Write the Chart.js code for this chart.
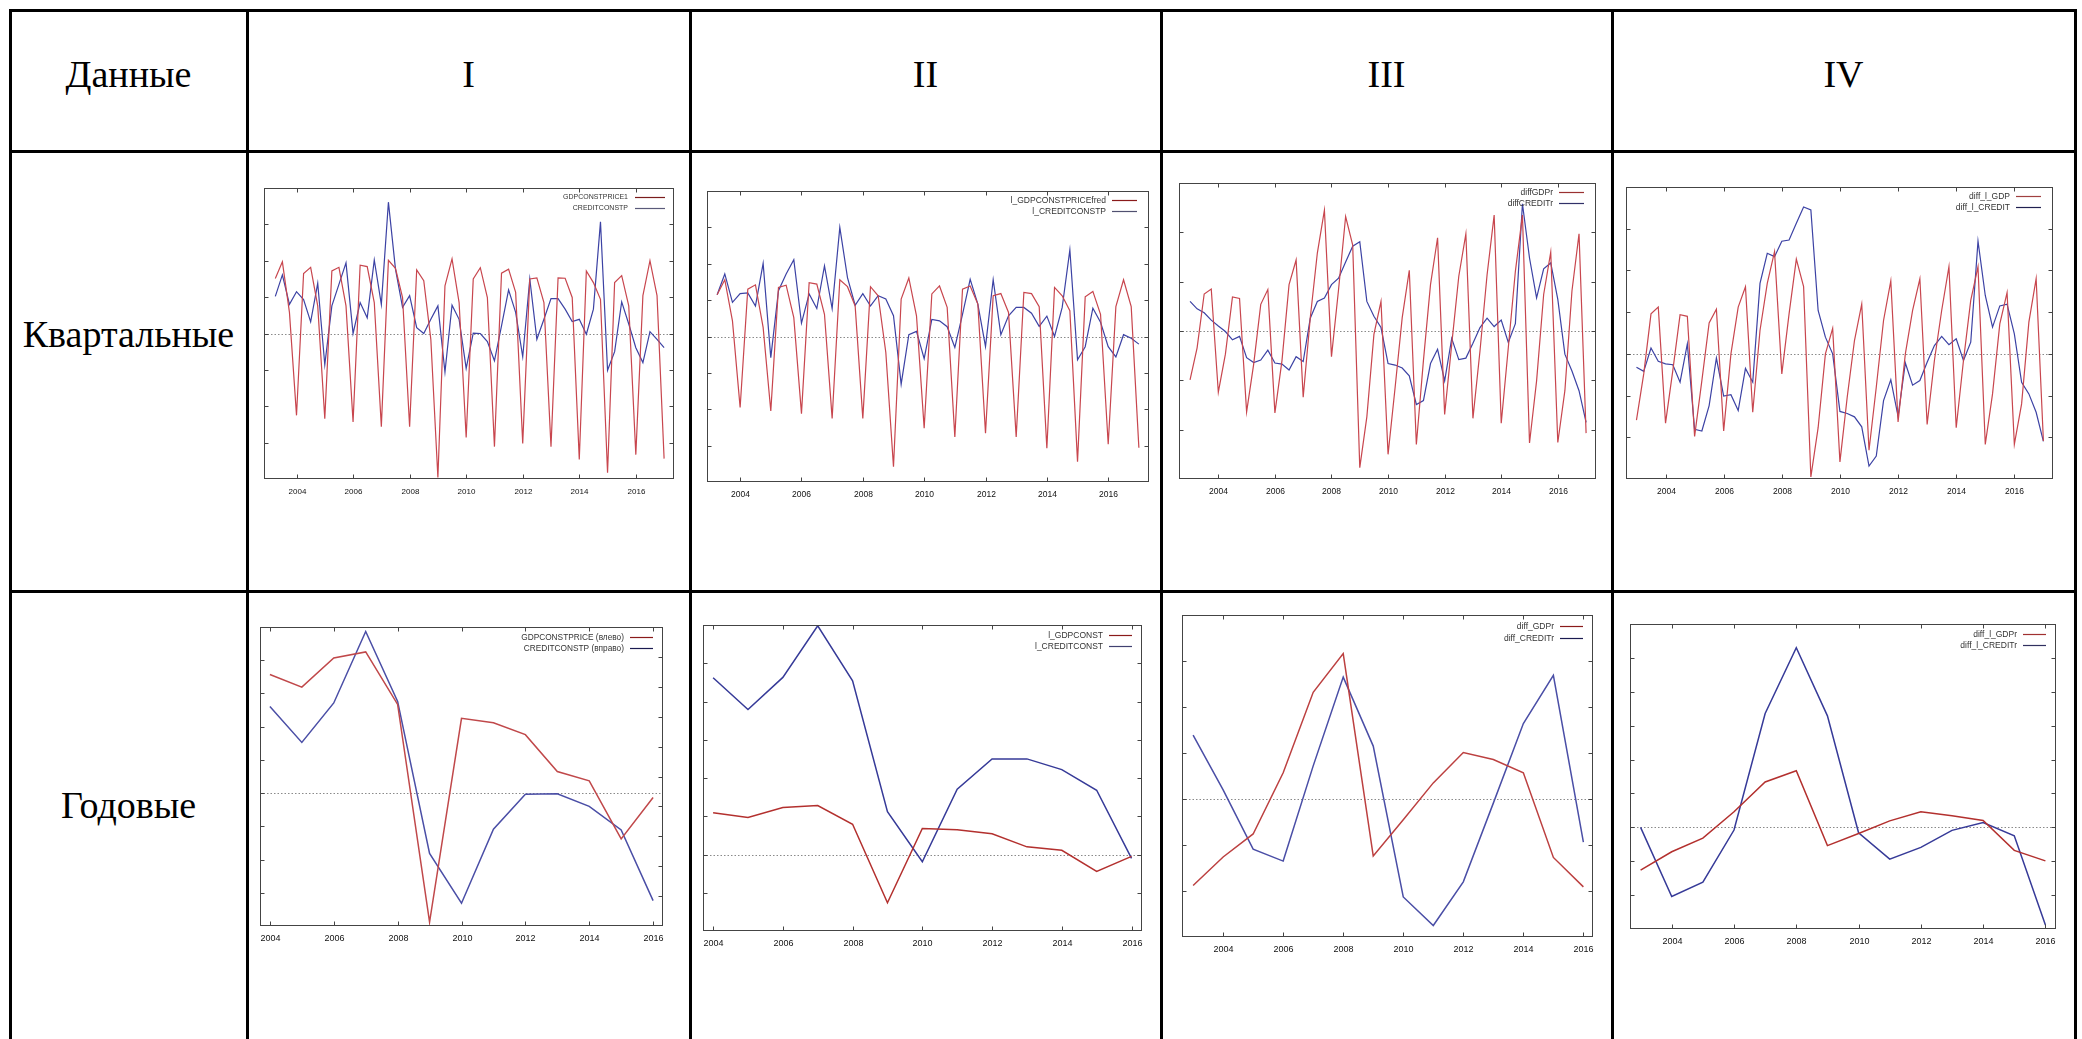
<!DOCTYPE html>
<html lang="ru">
<head>
<meta charset="utf-8">
<title>Квартальные и годовые данные</title>
<script src="https://cdn.jsdelivr.net/npm/chart.js@4.4.1/dist/chart.umd.min.js"></script>
<style>
  body { margin: 0; background: #fff; }
  #page { position: relative; width: 2082px; height: 1039px; overflow: hidden; background: #fff;
          font-family: "Liberation Serif", "Times New Roman", serif; }
  .rule { position: absolute; background: #000; }
  .cell-text { position: absolute; font-size: 38px; line-height: 38px; white-space: nowrap;
               transform: translate(-50%, -50%); color: #000; }
  canvas { position: absolute; }
</style>
</head>
<body>
<div id="page"></div>
<script>
// ---- categories ----
const annualYears2004 = [2004, 2005, 2006, 2007, 2008, 2009, 2010, 2011, 2012, 2013, 2014, 2015, 2016];
const annualYears2003 = [2003, 2004, 2005, 2006, 2007, 2008, 2009, 2010, 2011, 2012, 2013, 2014, 2015, 2016];
const xTickLabels = ['2004', '2006', '2008', '2010', '2012', '2014', '2016'];

// quarter positions on a year axis (2003Q2 -> 2003.25)
function quarters(fromYear, fromQ, toYear, toQ) {
  const out = [];
  for (let y = fromYear; y <= toYear; y++) {
    for (let q = 1; q <= 4; q++) {
      if (y === fromYear && q < fromQ) continue;
      if (y === toYear && q > toQ) break;
      out.push(y + (q - 1) / 4);
    }
  }
  return out;
}
const quarters2003Q2 = quarters(2003, 2, 2017, 1);
const quarters2003Q1 = quarters(2003, 1, 2017, 1);

// ---- table text ----
const headerLabels = ['Данные', 'I', 'II', 'III', 'IV'];
const rowLabels = ['Квартальные', 'Годовые'];

// ---- series: quarterly ----
const qI_gdp = [1.51, 1.97, 0.58, -2.25, 1.65, 1.82, 0.76, -2.34, 1.72, 1.82, 0.76, -2.43, 1.88, 1.84, 0.85, -2.56,
  2.01, 1.79, 0.99, -2.56, 1.75, 1.45, -0.16, -3.96, 1.31, 2.05, 0.85, -2.86, 1.50, 1.81, 0.99, -3.11,
  1.66, 1.77, 1.13, -3.02, 1.50, 1.53, 0.85, -3.11, 1.53, 1.52, 0.99, -3.46, 1.72, 1.40, 0.94, -3.83,
  1.40, 1.59, 0.76, -3.33, 1.04, 2.00, 1.04, -3.44];
const qI_credit = [1.02, 1.61, 0.80, 1.15, 0.93, 0.32, 1.38, -0.86, 0.76, 1.35, 1.94, 0.00, 0.85, 0.43, 2.02, 0.80,
  3.61, 1.77, 0.72, 1.04, 0.16, 0.00, 0.39, 0.76, -1.06, 0.78, 0.39, -0.96, 0.01, 0.00, -0.22, -0.75,
  0.21, 1.20, 0.58, -0.64, 1.50, -0.16, 0.39, 0.96, 0.96, 0.67, 0.33, 0.39, -0.02, 0.67, 3.07, -1.01,
  -0.50, 0.87, 0.26, -0.39, -0.80, 0.05, -0.16, -0.39];

const qII_gdp = [1.15, 1.56, 0.43, -1.95, 1.30, 1.42, 0.25, -2.05, 1.35, 1.41, 0.52, -2.12, 1.48, 1.44, 0.61, -2.25,
  1.56, 1.37, 0.84, -2.25, 1.37, 1.12, -0.44, -3.58, 1.03, 1.61, 0.57, -2.52, 1.17, 1.39, 0.80, -2.76,
  1.30, 1.39, 0.89, -2.66, 1.12, 1.18, 0.66, -2.76, 1.21, 1.18, 0.82, -3.07, 1.35, 1.12, 0.71, -3.44,
  1.09, 1.24, 0.61, -2.96, 0.82, 1.56, 0.82, -3.06];
const qII_credit = [1.15, 1.72, 0.94, 1.18, 1.20, 0.84, 2.01, -0.58, 1.26, 1.72, 2.11, 0.37, 1.17, 0.77, 1.94, 0.77,
  3.00, 1.62, 0.86, 1.18, 0.84, 1.12, 1.03, 0.57, -1.31, 0.05, 0.14, -0.61, 0.47, 0.43, 0.27, -0.30,
  0.61, 1.57, 0.89, -0.28, 1.56, 0.05, 0.57, 0.80, 0.80, 0.64, 0.28, 0.56, 0.00, 0.80, 2.38, -0.64,
  -0.28, 0.78, 0.39, -0.28, -0.56, 0.05, -0.05, -0.21];

const qIII_gdp = [-0.99, -0.34, 0.75, 0.85, -1.24, -0.47, 0.69, 0.66, -1.64, -0.67, 0.54, 0.84, -1.66, -0.60, 0.94, 1.44,
  -1.34, 0.27, 1.58, 2.45, -0.52, 0.84, 2.32, 1.74, -2.77, -1.74, -0.07, 0.60, -2.50, -1.14, 0.27, 1.23,
  -2.30, -0.60, 0.94, 1.89, -1.69, -0.27, 1.11, 1.97, -1.77, -0.40, 1.14, 2.35, -1.87, -0.34, 1.21, 2.35,
  -2.27, -1.01, 0.74, 1.60, -2.26, -1.21, 0.81, 1.97, -2.07];
const qIII_credit = [0.60, 0.45, 0.37, 0.22, 0.10, -0.01, -0.18, -0.11, -0.54, -0.64, -0.59, -0.39, -0.65, -0.67, -0.79, -0.52,
  -0.62, 0.26, 0.60, 0.67, 0.94, 1.07, 1.40, 1.72, 1.81, 0.60, 0.30, 0.07, -0.66, -0.69, -0.75, -0.91,
  -1.49, -1.41, -0.66, -0.37, -1.01, -0.15, -0.58, -0.55, -0.25, 0.07, 0.26, 0.09, 0.22, -0.23, 0.15, 2.58,
  1.48, 0.67, 1.26, 1.38, 0.64, -0.47, -0.81, -1.21, -1.85];

const qIV_gdp = [-1.59, -0.48, 0.96, 1.12, -1.66, -0.40, 0.94, 0.90, -1.98, -0.64, 0.74, 1.07, -1.85, 0.00, 1.12, 1.61,
  -1.40, 0.56, 1.69, 2.45, -0.48, 0.96, 2.27, 1.61, -2.95, -1.77, 0.00, 0.61, -2.59, -1.04, 0.32, 1.19,
  -2.31, -0.80, 0.80, 1.75, -1.63, 0.00, 1.04, 1.80, -1.69, -0.16, 1.04, 2.09, -1.77, -0.16, 1.28, 2.09,
  -2.17, -0.96, 0.72, 1.47, -2.17, -1.20, 0.76, 1.80, -2.09];
const qIV_credit = [-0.32, -0.42, 0.14, -0.18, -0.24, -0.26, -0.68, 0.24, -1.81, -1.85, -1.24, -0.10, -1.01, -0.98, -1.36, -0.35,
  -0.68, 1.69, 2.41, 2.33, 2.70, 2.73, 3.13, 3.52, 3.45, 1.04, 0.40, 0.00, -1.38, -1.43, -1.51, -1.75,
  -2.69, -2.45, -1.12, -0.62, -1.50, -0.22, -0.75, -0.64, -0.20, 0.20, 0.42, 0.22, 0.36, -0.16, 0.28, 2.70,
  1.40, 0.64, 1.15, 1.19, 0.48, -0.68, -0.96, -1.40, -2.10];

// ---- series: annual ----
const aI_gdp = [3.57, 3.19, 4.07, 4.25, 2.67, -3.88, 2.25, 2.12, 1.76, 0.65, 0.37, -1.38, -0.13];
const aI_credit = [7.34, 6.14, 7.46, 9.85, 7.51, 2.43, 0.76, 3.24, 4.41, 4.42, 4.00, 3.21, 0.85]; // right axis
const aII_gdp = [1.09, 0.97, 1.23, 1.28, 0.79, -1.26, 0.68, 0.65, 0.54, 0.20, 0.11, -0.44, -0.05];
const aII_credit = [4.62, 3.79, 4.63, 5.98, 4.54, 1.12, -0.19, 1.71, 2.50, 2.50, 2.22, 1.68, -0.10];
const aIII_gdp = [-1.88, -1.26, -0.76, 0.57, 2.32, 3.16, -1.24, -0.45, 0.35, 1.01, 0.86, 0.57, -1.27, -1.91];
const aIII_credit = [1.39, 0.20, -1.09, -1.35, 0.72, 2.65, 1.15, -2.13, -2.75, -1.80, -0.09, 1.64, 2.69, -0.94];
const aIV_gdp = [-1.26, -0.72, -0.32, 0.46, 1.34, 1.67, -0.54, -0.18, 0.19, 0.46, 0.34, 0.20, -0.68, -0.99];
const aIV_credit = [0.00, -2.04, -1.62, -0.08, 3.36, 5.30, 3.29, -0.16, -0.94, -0.59, -0.09, 0.14, -0.25, -2.88];

// ---- legend names ----
const legendQI = ['GDPCONSTPRICE1', 'CREDITCONSTP'];
const legendQII = ['l_GDPCONSTPRICEfred', 'l_CREDITCONSTP'];
const legendQIII = ['diffGDPr', 'diffCREDITr'];
const legendQIV = ['diff_l_GDP', 'diff_l_CREDIT'];
const legendAI = ['GDPCONSTPRICE (влево)', 'CREDITCONSTP (вправо)'];
const legendAII = ['l_GDPCONST', 'l_CREDITCONST'];
const legendAIII = ['diff_GDPr', 'diff_CREDITr'];
const legendAIV = ['diff_l_GDPr', 'diff_l_CREDITr'];

const RED_Q = '#c8464e', BLUE_Q = '#3c42a4';
const RED_A = '#b3302e', BLUE_A = '#363a98';

/**
 * Table grid and cell texts
 */
const page = document.getElementById('page');
const colX = [10, 247, 690, 1161, 1612, 2075];
const rowY = [10, 151, 591];

function rule(x, y, w, h) {
  const d = document.createElement('div');
  d.className = 'rule';
  Object.assign(d.style, { left: x + 'px', top: y + 'px', width: w + 'px', height: h + 'px' });
  page.appendChild(d);
}
colX.forEach(x => rule(x - 1, rowY[0] - 1, 3, 1039 - rowY[0] + 1));
rowY.forEach(y => rule(colX[0] - 1, y - 1, colX[colX.length - 1] - colX[0] + 3, 3));

function cellText(text, cx, cy) {
  const d = document.createElement('div');
  d.className = 'cell-text';
  d.textContent = text;
  d.style.left = cx + 'px';
  d.style.top = cy + 'px';
  page.appendChild(d);
}
headerLabels.forEach((t, i) => cellText(t, (colX[i] + colX[i + 1]) / 2, 74));
cellText(rowLabels[0], (colX[0] + colX[1]) / 2, 334);
cellText(rowLabels[1], (colX[0] + colX[1]) / 2, 805);

/**
 * Gnuplot-like frame: box, inward ticks, dotted zero line, legend at top right
 */
const specs = {};
const gnuplotLook = {
  id: 'gnuplotLook',
  beforeDatasetsDraw(chart) {
    const { ctx, chartArea: a, scales } = chart;
    const y0 = Math.round(scales.y.getPixelForValue(0)) + 0.5;
    ctx.save();
    ctx.strokeStyle = '#8a8a8a';
    ctx.lineWidth = 1;
    ctx.setLineDash([1.5, 2]);
    ctx.beginPath();
    ctx.moveTo(a.left, y0);
    ctx.lineTo(a.right, y0);
    ctx.stroke();
    ctx.restore();
  },
  afterDatasetsDraw(chart) {
    const s = specs[chart.canvas.id];
    const { ctx, chartArea: a, scales } = chart;
    const L = Math.round(a.left) + 0.5, R = Math.round(a.right) - 0.5;
    const T = Math.round(a.top) + 0.5, B = Math.round(a.bottom) - 0.5;
    ctx.save();
    ctx.strokeStyle = '#444';
    ctx.lineWidth = 1;
    ctx.strokeRect(L, T, R - L, B - T);

    // x ticks and labels
    ctx.font = s.tickFont + 'px "Liberation Sans", Arial, sans-serif';
    ctx.fillStyle = '#111';
    ctx.textAlign = 'center';
    ctx.textBaseline = 'middle';
    ctx.beginPath();
    xTickLabels.forEach(lbl => {
      const px = Math.round(scales.x.getPixelForValue(Number(lbl))) + 0.5;
      ctx.moveTo(px, B); ctx.lineTo(px, B - 4);
      ctx.moveTo(px, T); ctx.lineTo(px, T + 4);
      ctx.fillText(lbl, px, B + 13);
    });
    // y ticks, left and right
    const yl = scales.y, yr = scales.y2 || scales.y;
    for (let v = yl.min + s.yStep; v < yl.max - 1e-9; v += s.yStep) {
      const py = Math.round(yl.getPixelForValue(v)) + 0.5;
      ctx.moveTo(L, py); ctx.lineTo(L + 4, py);
      if (!scales.y2) { ctx.moveTo(R, py); ctx.lineTo(R - 4, py); }
    }
    if (scales.y2) {
      for (let v = yr.min + 1; v < yr.max - 1e-9; v += 1) {
        const py = Math.round(yr.getPixelForValue(v)) + 0.5;
        ctx.moveTo(R, py); ctx.lineTo(R - 4, py);
      }
    }
    ctx.stroke();

    // legend
    ctx.font = s.legendFont + 'px "Liberation Sans", Arial, sans-serif';
    ctx.textAlign = 'right';
    chart.data.datasets.forEach((ds, i) => {
      const ly = Math.round(a.top + s.legendTop + i * s.legendGap) + 0.5;
      ctx.fillStyle = '#333';
      ctx.fillText(ds.label, a.right - s.legendTextEnd, ly);
      ctx.strokeStyle = s.legendColors[i];
      ctx.lineWidth = 1.2;
      ctx.beginPath();
      ctx.moveTo(a.right - s.legendLine[0], ly);
      ctx.lineTo(a.right - s.legendLine[1], ly);
      ctx.stroke();
    });
    ctx.restore();
  }
};

function points(xs, ys) {
  return xs.map((x, i) => ({ x: x, y: ys[i] }));
}

const PAD = { left: 6, right: 6, top: 4, bottom: 26 };

function makeChart(id, frame, spec, datasets) {
  specs[id] = spec;
  const canvas = document.createElement('canvas');
  canvas.id = id;
  const w = frame.w + PAD.left + PAD.right, h = frame.h + PAD.top + PAD.bottom;
  canvas.width = w; canvas.height = h;
  Object.assign(canvas.style, {
    left: (frame.x - PAD.left) + 'px', top: (frame.y - PAD.top) + 'px',
    width: w + 'px', height: h + 'px'
  });
  page.appendChild(canvas);

  const scales = {
    x: { type: 'linear', display: false, min: spec.xMin, max: spec.xMax },
    y: { type: 'linear', display: false, min: spec.yMin, max: spec.yMax }
  };
  if (spec.y2) scales.y2 = { type: 'linear', display: false, position: 'right', min: spec.y2[0], max: spec.y2[1] };

  return new Chart(canvas, {
    type: 'line',
    data: { datasets: datasets },
    options: {
      responsive: false,
      animation: false,
      devicePixelRatio: 1,
      layout: { padding: PAD },
      elements: { point: { radius: 0 }, line: { tension: 0 } },
      plugins: { legend: { display: false }, tooltip: { enabled: false } },
      scales: scales
    },
    plugins: [gnuplotLook]
  });
}

function lineSet(label, xs, ys, color, width, axis) {
  return {
    label: label, data: points(xs, ys), borderColor: color, borderWidth: width,
    fill: false, yAxisID: axis || 'y'
  };
}

const legQ = { legendTop: 9, legendGap: 11, legendTextEnd: 43, legendLine: [37, 12] };

// quarterly row
makeChart('qI', { x: 264, y: 188, w: 410, h: 291 },
  Object.assign({ xMin: 2002.85, xMax: 2017.35, yMin: -4, yMax: 4, yStep: 1, tickFont: 8, legendFont: 7,
    legendColors: ['#7a1c1c', '#5a5a7a'] }, legQ, { legendTextEnd: 46, legendLine: [39, 9] }),
  [lineSet(legendQI[0], quarters2003Q2, qI_gdp, RED_Q, 1.2),
   lineSet(legendQI[1], quarters2003Q2, qI_credit, BLUE_Q, 1.2)]);

makeChart('qII', { x: 707, y: 191, w: 442, h: 291 },
  Object.assign({ xMin: 2002.92, xMax: 2017.33, yMin: -4, yMax: 4, yStep: 1, tickFont: 8.5, legendFont: 8.5,
    legendColors: ['#8a1a1a', '#505070'] }, legQ),
  [lineSet(legendQII[0], quarters2003Q2, qII_gdp, RED_Q, 1.2),
   lineSet(legendQII[1], quarters2003Q2, qII_credit, BLUE_Q, 1.2)]);

makeChart('qIII', { x: 1179, y: 183, w: 417, h: 296 },
  Object.assign({ xMin: 2002.61, xMax: 2017.35, yMin: -3, yMax: 3, yStep: 1, tickFont: 8.5, legendFont: 8.5,
    legendColors: ['#9a3030', '#303068'] }, legQ),
  [lineSet(legendQIII[0], quarters2003Q1, qIII_gdp, RED_Q, 1.2),
   lineSet(legendQIII[1], quarters2003Q1, qIII_credit, BLUE_Q, 1.2)]);

makeChart('qIV', { x: 1626, y: 187, w: 427, h: 292 },
  Object.assign({ xMin: 2002.64, xMax: 2017.33, yMin: -3, yMax: 4, yStep: 1, tickFont: 8.5, legendFont: 8.5,
    legendColors: ['#a04040', '#202050'] }, legQ),
  [lineSet(legendQIV[0], quarters2003Q1, qIV_gdp, RED_Q, 1.2),
   lineSet(legendQIV[1], quarters2003Q1, qIV_credit, BLUE_Q, 1.2)]);

// annual row
const legA = { legendTop: 10, legendGap: 11, legendTextEnd: 39, legendLine: [33, 10] };

makeChart('aI', { x: 260, y: 627, w: 403, h: 299 },
  Object.assign({ xMin: 2003.69, xMax: 2016.31, yMin: -4, yMax: 5, yStep: 1, y2: [0, 10], tickFont: 9, legendFont: 8.3,
    legendColors: ['#8a1a1a', '#1a1a50'] }, legA),
  [lineSet(legendAI[0], annualYears2004, aI_gdp, '#c0484a', 1.5),
   lineSet(legendAI[1], annualYears2004, aI_credit, '#4a4ea6', 1.5, 'y2')]);

makeChart('aII', { x: 703, y: 625, w: 439, h: 306 },
  Object.assign({ xMin: 2003.71, xMax: 2016.3, yMin: -2, yMax: 6, yStep: 1, tickFont: 9, legendFont: 8.5,
    legendColors: ['#8a1a1a', '#404070'] }, legA),
  [lineSet(legendAII[0], annualYears2004, aII_gdp, RED_A, 1.5),
   lineSet(legendAII[1], annualYears2004, aII_credit, BLUE_A, 1.5)]);

makeChart('aIII', { x: 1182, y: 615, w: 411, h: 322 },
  Object.assign({ xMin: 2002.63, xMax: 2016.32, yMin: -3, yMax: 4, yStep: 1, tickFont: 9, legendFont: 8.5,
    legendColors: ['#8a1a1a', '#1a1a50'] }, legA, { legendTop: 11, legendGap: 12 }),
  [lineSet(legendAIII[0], annualYears2003, aIII_gdp, '#bc4040', 1.5),
   lineSet(legendAIII[1], annualYears2003, aIII_credit, '#4a4ea6', 1.5)]);

makeChart('aIV', { x: 1630, y: 624, w: 426, h: 305 },
  Object.assign({ xMin: 2002.66, xMax: 2016.34, yMin: -3, yMax: 6, yStep: 1, tickFont: 9, legendFont: 8.5,
    legendColors: ['#a03030', '#303060'] }, legA),
  [lineSet(legendAIV[0], annualYears2003, aIV_gdp, RED_A, 1.5),
   lineSet(legendAIV[1], annualYears2003, aIV_credit, BLUE_A, 1.5)]);
</script>
</body>
</html>
